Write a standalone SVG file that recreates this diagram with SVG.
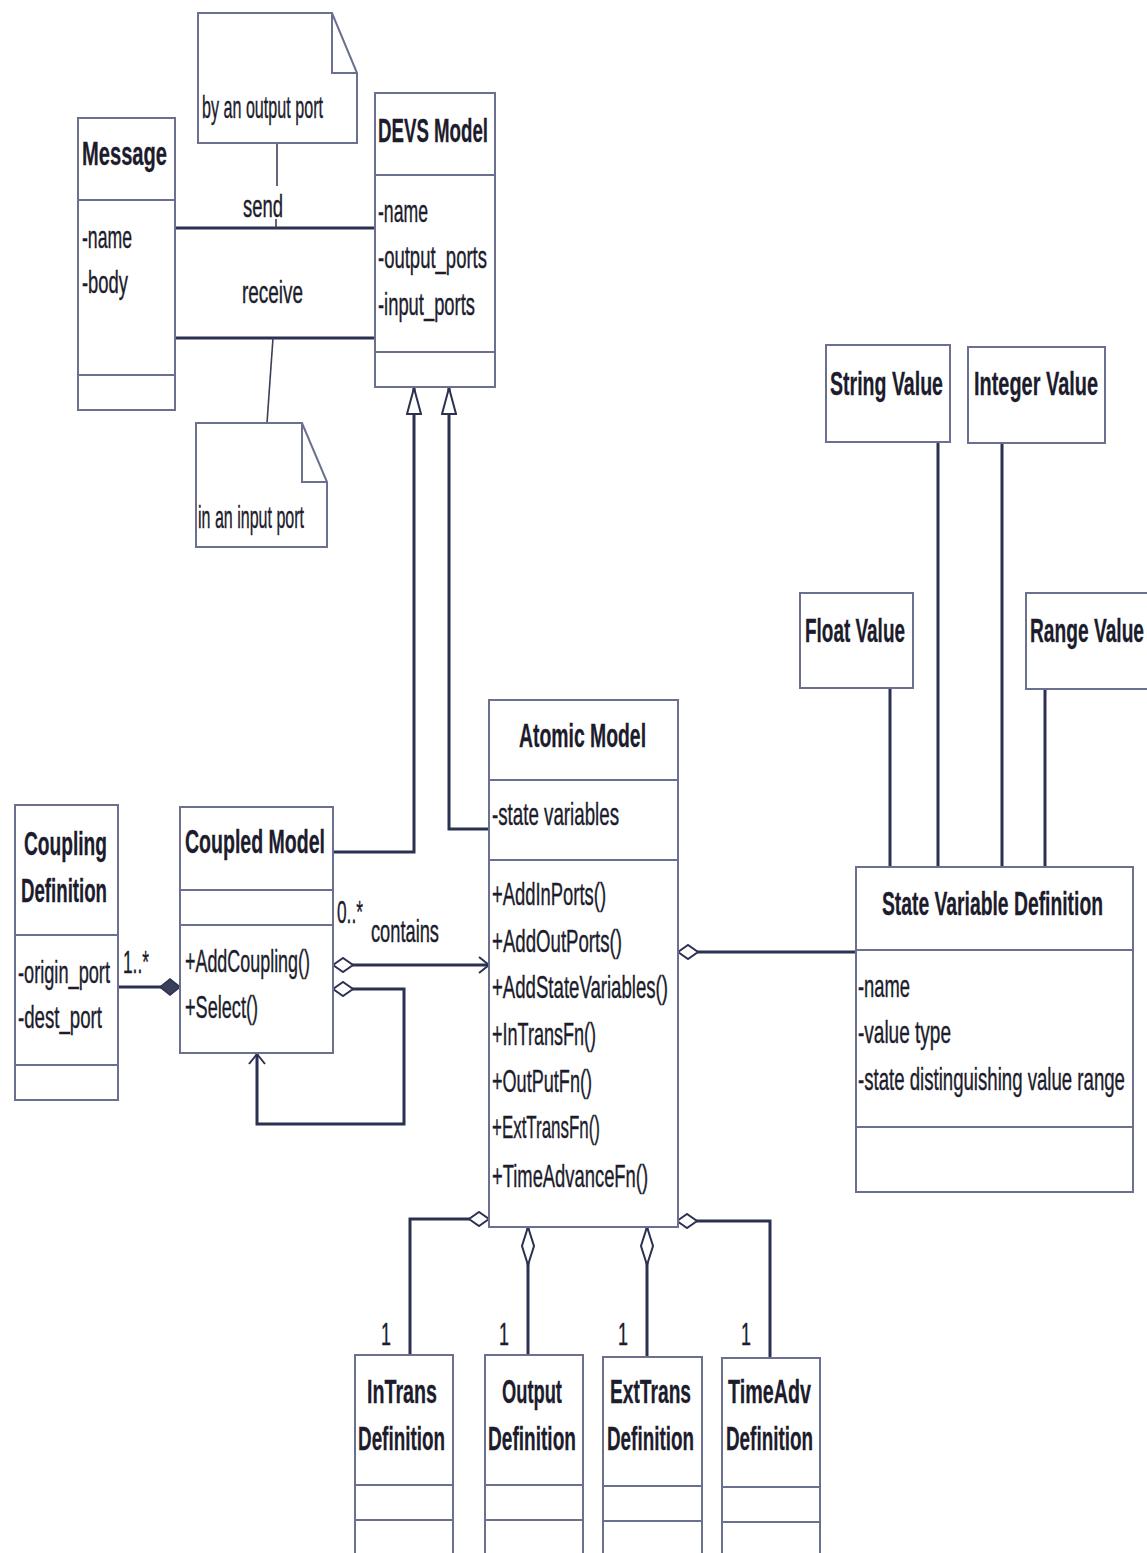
<svg xmlns="http://www.w3.org/2000/svg" width="1147" height="1553" viewBox="0 0 1147 1553">
<style>
.box{fill:#fff;stroke:#6b7090;stroke-width:2}
.dv{stroke:#6b7090;stroke-width:2;fill:none}
.t{font-family:"Liberation Sans",Arial,sans-serif;font-size:32px;fill:#1c1c2c;stroke:#1c1c2c;stroke-width:0.4}
.b{font-weight:bold;font-size:34px;stroke-width:0.3}
.ln{stroke:#2b3150;stroke-width:3;fill:none}
.thin{stroke:#3a3f5a;stroke-width:1.6;fill:none}
</style>
<defs>
<marker id="gen" markerUnits="userSpaceOnUse" viewBox="-1 -1 28 16" markerWidth="28" markerHeight="16" refX="26" refY="7" orient="auto"><path d="M0,0 L26,7 L0,14 Z" fill="#fff" stroke="#2b3150" stroke-width="2"/></marker>
<marker id="open" markerUnits="userSpaceOnUse" viewBox="-1 -1 13 18" markerWidth="13" markerHeight="18" refX="10" refY="8" orient="auto"><path d="M0,0 L10,8 L0,16" fill="none" stroke="#2b3150" stroke-width="2"/></marker>
<marker id="hd" markerUnits="userSpaceOnUse" viewBox="-1 -1 22 16" markerWidth="22" markerHeight="16" refX="0" refY="7" orient="auto"><path d="M0,7 L10,0 L20,7 L10,14 Z" fill="#fff" stroke="#2b3150" stroke-width="2"/></marker>
<marker id="hdl" markerUnits="userSpaceOnUse" viewBox="-1 -1 40 14" markerWidth="40" markerHeight="14" refX="0" refY="6" orient="auto"><path d="M0,6 L19,0 L38,6 L19,12 Z" fill="#fff" stroke="#2b3150" stroke-width="2"/></marker>
<marker id="fd" markerUnits="userSpaceOnUse" viewBox="-1 -1 22 18" markerWidth="22" markerHeight="18" refX="20" refY="8" orient="auto"><path d="M0,8 L10,0 L20,8 L10,16 Z" fill="#3a3f5a" stroke="#2b3150" stroke-width="1.5"/></marker>
</defs>
<rect width="1147" height="1553" fill="#fff"/>

<g id="connectors">
<path class="ln" d="M175 228 H374"/>
<path class="ln" d="M175 338 H374"/>
<path class="thin" d="M277 143 V186"/>
<path class="thin" d="M276 219 V228"/>
<path class="thin" d="M273 338 L267 423"/>
<path class="ln" d="M333 852 H414 V388" marker-end="url(#gen)"/>
<path class="ln" d="M490 829 H449 V388" marker-end="url(#gen)"/>
<path class="ln" d="M118 987 H180" marker-end="url(#fd)"/>
<path class="ln" d="M333 965 H489" marker-start="url(#hd)" marker-end="url(#open)"/>
<path class="ln" d="M333 989 H404 V1124 H257 V1054" marker-start="url(#hd)" marker-end="url(#open)"/>
<path class="ln" d="M678 952 H856" marker-start="url(#hd)"/>
<path class="ln" d="M938 443 V867"/>
<path class="ln" d="M1002 444 V867"/>
<path class="ln" d="M890 689 V867"/>
<path class="ln" d="M1045 690 V867"/>
<path class="ln" d="M489 1219 H410 V1355" marker-start="url(#hd)"/>
<path class="ln" d="M528 1227 V1355" marker-start="url(#hdl)"/>
<path class="ln" d="M647 1227 V1357" marker-start="url(#hdl)"/>
<path class="ln" d="M677 1221 H770 V1358" marker-start="url(#hd)"/>
<text class="t" x="243" y="217" transform="matrix(.58 0 0 1 102.06 0)" textLength="69" lengthAdjust="spacingAndGlyphs">send</text>
<text class="t" x="242" y="303" transform="matrix(.58 0 0 1 101.64 0)" textLength="105.2" lengthAdjust="spacingAndGlyphs">receive</text>
<text class="t" x="123" y="973" transform="matrix(.58 0 0 1 51.66 0)" textLength="44.8" lengthAdjust="spacingAndGlyphs">1..*</text>
<text class="t" x="337" y="923" transform="matrix(.58 0 0 1 141.54 0)" textLength="44.8" lengthAdjust="spacingAndGlyphs">0..*</text>
<text class="t" x="371" y="942" transform="matrix(.58 0 0 1 155.82 0)" textLength="117.2" lengthAdjust="spacingAndGlyphs">contains</text>
<text class="t" x="381" y="1345" transform="matrix(.58 0 0 1 160.02 0)" textLength="17.2" lengthAdjust="spacingAndGlyphs">1</text>
<text class="t" x="499" y="1345" transform="matrix(.58 0 0 1 209.58 0)" textLength="17.2" lengthAdjust="spacingAndGlyphs">1</text>
<text class="t" x="618" y="1345" transform="matrix(.58 0 0 1 259.56 0)" textLength="17.2" lengthAdjust="spacingAndGlyphs">1</text>
<text class="t" x="741" y="1345" transform="matrix(.58 0 0 1 311.22 0)" textLength="17.2" lengthAdjust="spacingAndGlyphs">1</text>
</g>

<g id="note-output">
<path class="box" d="M198 13 H332 L357 73 V143 H198 Z"/>
<path class="dv" d="M332 13 V73 H357"/>
<text class="t" x="202" y="118" transform="matrix(.58 0 0 1 84.84 0)" textLength="208.6" lengthAdjust="spacingAndGlyphs">by an output port</text>
</g>
<g id="note-input">
<path class="box" d="M196 423 H302 L327 482 V547 H196 Z"/>
<path class="dv" d="M302 423 V482 H327"/>
<text class="t" x="198" y="528" transform="matrix(.58 0 0 1 83.16 0)" textLength="182.8" lengthAdjust="spacingAndGlyphs">in an input port</text>
</g>

<g id="message">
<rect class="box" x="78" y="118" width="97" height="292"/>
<path class="dv" d="M78 200 H175 M78 375 H175"/>
<text class="t b" x="82" y="165" transform="matrix(.58 0 0 1 34.44 0)" textLength="146.6" lengthAdjust="spacingAndGlyphs">Message</text>
<text class="t" x="82" y="248" transform="matrix(.58 0 0 1 34.44 0)" textLength="86.2" lengthAdjust="spacingAndGlyphs">-name</text>
<text class="t" x="82" y="293" transform="matrix(.58 0 0 1 34.44 0)" textLength="79.3" lengthAdjust="spacingAndGlyphs">-body</text>
</g>

<g id="devs-model">
<rect class="box" x="375" y="93" width="120" height="294"/>
<path class="dv" d="M375 175 H495 M375 352 H495"/>
<text class="t b" x="378" y="142" transform="matrix(.58 0 0 1 158.76 0)" textLength="189.7" lengthAdjust="spacingAndGlyphs">DEVS Model</text>
<text class="t" x="378" y="222" transform="matrix(.58 0 0 1 158.76 0)" textLength="86.2" lengthAdjust="spacingAndGlyphs">-name</text>
<text class="t" x="378" y="268" transform="matrix(.58 0 0 1 158.76 0)" textLength="187.9" lengthAdjust="spacingAndGlyphs">-output_ports</text>
<text class="t" x="378" y="315" transform="matrix(.58 0 0 1 158.76 0)" textLength="167.2" lengthAdjust="spacingAndGlyphs">-input_ports</text>
</g>

<g id="coupling-definition">
<rect class="box" x="15" y="805" width="103" height="295"/>
<path class="dv" d="M15 935 H118 M15 1065 H118"/>
<text class="t b" x="24" y="855" transform="matrix(.58 0 0 1 10.08 0)" textLength="143.1" lengthAdjust="spacingAndGlyphs">Coupling</text>
<text class="t b" x="21" y="902" transform="matrix(.58 0 0 1 8.82 0)" textLength="148.3" lengthAdjust="spacingAndGlyphs">Definition</text>
<text class="t" x="18" y="983" transform="matrix(.58 0 0 1 7.56 0)" textLength="158.6" lengthAdjust="spacingAndGlyphs">-origin_port</text>
<text class="t" x="18" y="1028" transform="matrix(.58 0 0 1 7.56 0)" textLength="144.8" lengthAdjust="spacingAndGlyphs">-dest_port</text>
</g>

<g id="coupled-model">
<rect class="box" x="180" y="807" width="153" height="246"/>
<path class="dv" d="M180 890 H333 M180 925 H333"/>
<text class="t b" x="185" y="853" transform="matrix(.58 0 0 1 77.7 0)" textLength="241.4" lengthAdjust="spacingAndGlyphs">Coupled Model</text>
<text class="t" x="185" y="972" transform="matrix(.58 0 0 1 77.7 0)" textLength="215.5" lengthAdjust="spacingAndGlyphs">+AddCoupling()</text>
<text class="t" x="185" y="1018" transform="matrix(.58 0 0 1 77.7 0)" textLength="125.9" lengthAdjust="spacingAndGlyphs">+Select()</text>
</g>

<g id="atomic-model">
<rect class="box" x="489" y="700" width="189" height="527"/>
<path class="dv" d="M489 780 H678 M489 860 H678"/>
<text class="t b" x="519" y="747" transform="matrix(.58 0 0 1 217.98 0)" textLength="219" lengthAdjust="spacingAndGlyphs">Atomic Model</text>
<text class="t" x="492" y="825" transform="matrix(.58 0 0 1 206.64 0)" textLength="219" lengthAdjust="spacingAndGlyphs">-state variables</text>
<text class="t" x="492" y="905" transform="matrix(.58 0 0 1 206.64 0)" textLength="196.6" lengthAdjust="spacingAndGlyphs">+AddInPorts()</text>
<text class="t" x="492" y="952" transform="matrix(.58 0 0 1 206.64 0)" textLength="224.1" lengthAdjust="spacingAndGlyphs">+AddOutPorts()</text>
<text class="t" x="492" y="998" transform="matrix(.58 0 0 1 206.64 0)" textLength="303.4" lengthAdjust="spacingAndGlyphs">+AddStateVariables()</text>
<text class="t" x="492" y="1045" transform="matrix(.58 0 0 1 206.64 0)" textLength="179.3" lengthAdjust="spacingAndGlyphs">+InTransFn()</text>
<text class="t" x="492" y="1092" transform="matrix(.58 0 0 1 206.64 0)" textLength="172.4" lengthAdjust="spacingAndGlyphs">+OutPutFn()</text>
<text class="t" x="492" y="1138" transform="matrix(.58 0 0 1 206.64 0)" textLength="186.2" lengthAdjust="spacingAndGlyphs">+ExtTransFn()</text>
<text class="t" x="492" y="1187" transform="matrix(.58 0 0 1 206.64 0)" textLength="269" lengthAdjust="spacingAndGlyphs">+TimeAdvanceFn()</text>
</g>

<g id="state-variable-definition">
<rect class="box" x="856" y="867" width="277" height="325"/>
<path class="dv" d="M856 950 H1133 M856 1127 H1133"/>
<text class="t b" x="882" y="915" transform="matrix(.58 0 0 1 370.44 0)" textLength="381" lengthAdjust="spacingAndGlyphs">State Variable Definition</text>
<text class="t" x="858" y="997" transform="matrix(.58 0 0 1 360.36 0)" textLength="89.7" lengthAdjust="spacingAndGlyphs">-name</text>
<text class="t" x="858" y="1043" transform="matrix(.58 0 0 1 360.36 0)" textLength="160.3" lengthAdjust="spacingAndGlyphs">-value type</text>
<text class="t" x="858" y="1090" transform="matrix(.58 0 0 1 360.36 0)" textLength="460.3" lengthAdjust="spacingAndGlyphs">-state distinguishing value range</text>
</g>

<g id="string-value">
<rect class="box" x="826" y="345" width="124" height="97"/>
<text class="t b" x="830" y="395" transform="matrix(.58 0 0 1 348.6 0)" textLength="194.8" lengthAdjust="spacingAndGlyphs">String Value</text>
</g>
<g id="integer-value">
<rect class="box" x="968" y="347" width="137" height="96"/>
<text class="t b" x="974" y="395" transform="matrix(.58 0 0 1 409.08 0)" textLength="213.8" lengthAdjust="spacingAndGlyphs">Integer Value</text>
</g>
<g id="float-value">
<rect class="box" x="800" y="593" width="113" height="95"/>
<text class="t b" x="805" y="642" transform="matrix(.58 0 0 1 338.1 0)" textLength="172.4" lengthAdjust="spacingAndGlyphs">Float Value</text>
</g>
<g id="range-value">
<rect class="box" x="1026" y="593" width="130" height="96"/>
<text class="t b" x="1030" y="642" transform="matrix(.58 0 0 1 432.6 0)" textLength="196.6" lengthAdjust="spacingAndGlyphs">Range Value</text>
</g>

<g id="intrans-definition">
<rect class="box" x="355" y="1355" width="98" height="210"/>
<path class="dv" d="M355 1485 H453 M355 1520 H453"/>
<text class="t b" x="367" y="1403" transform="matrix(.58 0 0 1 154.14 0)" textLength="120.7" lengthAdjust="spacingAndGlyphs">InTrans</text>
<text class="t b" x="358" y="1450" transform="matrix(.58 0 0 1 150.36 0)" textLength="150" lengthAdjust="spacingAndGlyphs">Definition</text>
</g>
<g id="output-definition">
<rect class="box" x="485" y="1355" width="98" height="210"/>
<path class="dv" d="M485 1485 H583 M485 1520 H583"/>
<text class="t b" x="502" y="1403" transform="matrix(.58 0 0 1 210.84 0)" textLength="103.4" lengthAdjust="spacingAndGlyphs">Output</text>
<text class="t b" x="488" y="1450" transform="matrix(.58 0 0 1 204.96 0)" textLength="151.7" lengthAdjust="spacingAndGlyphs">Definition</text>
</g>
<g id="exttrans-definition">
<rect class="box" x="603" y="1357" width="99" height="210"/>
<path class="dv" d="M603 1486 H702 M603 1521 H702"/>
<text class="t b" x="610" y="1403" transform="matrix(.58 0 0 1 256.2 0)" textLength="139.7" lengthAdjust="spacingAndGlyphs">ExtTrans</text>
<text class="t b" x="607" y="1450" transform="matrix(.58 0 0 1 254.94 0)" textLength="150" lengthAdjust="spacingAndGlyphs">Definition</text>
</g>
<g id="timeadv-definition">
<rect class="box" x="722" y="1358" width="98" height="210"/>
<path class="dv" d="M722 1487 H820 M722 1522 H820"/>
<text class="t b" x="728" y="1403" transform="matrix(.58 0 0 1 305.76 0)" textLength="143.1" lengthAdjust="spacingAndGlyphs">TimeAdv</text>
<text class="t b" x="726" y="1450" transform="matrix(.58 0 0 1 304.92 0)" textLength="150" lengthAdjust="spacingAndGlyphs">Definition</text>
</g>
</svg>
